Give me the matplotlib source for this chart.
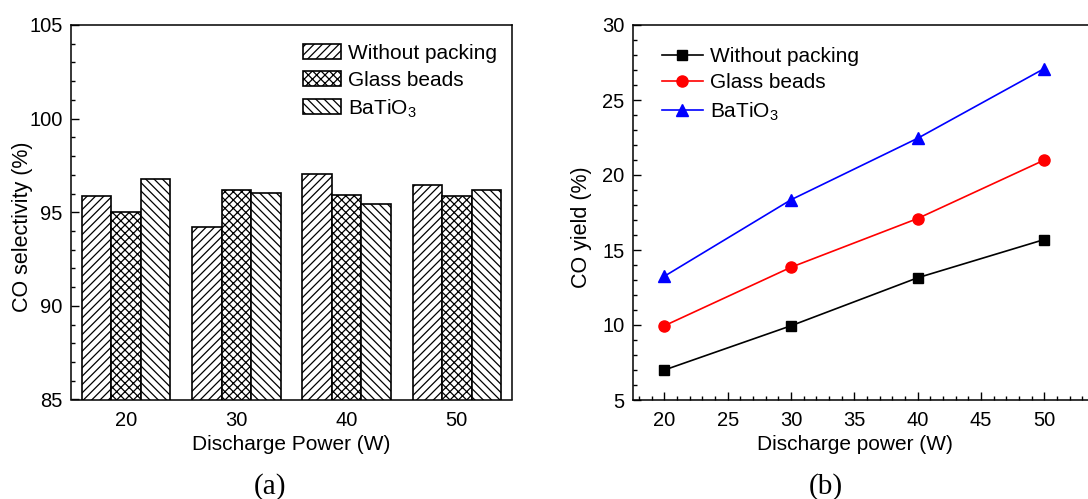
import numpy as np
import matplotlib
matplotlib.use("Agg")
import matplotlib.pyplot as plt
from matplotlib.ticker import MultipleLocator

plt.rcParams['font.family'] = ['Liberation Sans', 'DejaVu Sans']
plt.rcParams['mathtext.fontset'] = 'custom'
plt.rcParams['mathtext.rm'] = 'Liberation Sans'
plt.rcParams['hatch.linewidth'] = 0.9

# ---- data ----
powers = [20, 30, 40, 50]
series_names = ['Without packing', 'Glass beads', 'BaTiO$_3$']

selectivity_without = [95.85, 94.23, 97.05, 96.48]
selectivity_glass = [95.03, 96.20, 95.90, 95.85]
selectivity_batio3 = [96.76, 96.05, 95.43, 96.17]

yield_without = [7.0, 9.95, 13.15, 15.7]
yield_glass = [9.95, 13.85, 17.1, 21.0]
yield_batio3 = [13.25, 18.35, 22.45, 27.1]

W, H = 1088, 499
fig = plt.figure(figsize=(W / 100, H / 100), dpi=100)

FS = 15
TICK_FS = 14.5

# ---- (a) bar chart of CO selectivity ----
ax1 = fig.add_axes([71 / W, 1 - 399.5 / H, (512 - 71) / W, (399.5 - 25) / H])
x = np.arange(len(powers))
bw = 0.267
hatches = ['////', 'xxxx', '\\\\\\\\']
for i, (vals, hatch, name) in enumerate(zip(
        [selectivity_without, selectivity_glass, selectivity_batio3],
        hatches, series_names)):
    ax1.bar(x + (i - 1) * bw, vals, width=bw, bottom=0, color='white',
            edgecolor='black', hatch=hatch, linewidth=1.2, label=name)

ax1.set_xlim(-0.5, 3.5)
ax1.set_ylim(85, 105)
ax1.set_xticks(x)
ax1.set_xticklabels([str(p) for p in powers], fontsize=TICK_FS)
ax1.tick_params(axis='x', length=0, pad=8)
ax1.yaxis.set_major_locator(MultipleLocator(5))
ax1.yaxis.set_minor_locator(MultipleLocator(1))
ax1.tick_params(axis='y', which='major', direction='in', length=5.5,
                width=1.0, labelsize=TICK_FS, pad=6)
ax1.tick_params(axis='y', which='minor', direction='in', length=3, width=1.0)
for s in ax1.spines.values():
    s.set_linewidth(1.1)
ax1.set_xlabel('Discharge Power (W)', fontsize=FS)
ax1.set_ylabel('CO selectivity (%)', fontsize=15.5)
ax1.xaxis.set_label_coords(0.5, -(445 - 399.5) / 374.5, transform=ax1.transAxes)
ax1.yaxis.set_label_coords(-(71 - 23) / 441, (399.5 - 227) / 374.5,
                           transform=ax1.transAxes)
ax1.xaxis.label.set_va('center')
ax1.yaxis.label.set_va('center')
ax1.legend(loc='upper left', bbox_to_anchor=(303 / W, 1 - 44 / H),
           bbox_transform=fig.transFigure, frameon=False, fontsize=FS,
           handlelength=1.8, handleheight=0.75, handletextpad=0.35,
           labelspacing=0.36, borderpad=0, borderaxespad=0)

# ---- (b) line chart of CO yield ----
ax2 = fig.add_axes([632.7 / W, 1 - 400 / H, (1090 - 632.7) / W, (400 - 25) / H])
ax2.plot(powers, yield_without, color='black', marker='s', markersize=7,
         linewidth=1.2, label=series_names[0])
ax2.plot(powers, yield_glass, color='#ff0000', marker='o', markersize=8,
         linewidth=1.2, label=series_names[1])
ax2.plot(powers, yield_batio3, color='#0000ff', marker='^', markersize=8.5,
         linewidth=1.2, label=series_names[2])
ax2.set_xlim(17.5, 53.6)
ax2.set_ylim(5, 30)
ax2.xaxis.set_major_locator(MultipleLocator(5))
ax2.xaxis.set_minor_locator(MultipleLocator(1))
ax2.yaxis.set_major_locator(MultipleLocator(5))
ax2.yaxis.set_minor_locator(MultipleLocator(1))
ax2.tick_params(which='major', direction='in', length=5.5, width=1.0,
                labelsize=TICK_FS)
ax2.tick_params(which='minor', direction='in', length=2.8, width=1.0)
ax2.tick_params(axis='x', pad=8)
ax2.tick_params(axis='y', pad=6)
for s in ax2.spines.values():
    s.set_linewidth(1.1)
ax2.set_xlabel('Discharge power (W)', fontsize=FS)
ax2.set_ylabel('CO yield (%)', fontsize=15.5)
ax2.xaxis.set_label_coords((855 - 632.7) / (1090 - 632.7), -(445 - 400) / 375,
                           transform=ax2.transAxes)
ax2.yaxis.set_label_coords(-(632.7 - 581) / (1090 - 632.7), (400 - 227) / 375,
                           transform=ax2.transAxes)
ax2.xaxis.label.set_va('center')
ax2.yaxis.label.set_va('center')
ax2.legend(loc='upper left', bbox_to_anchor=(662 / W, 1 - 47 / H),
           bbox_transform=fig.transFigure, frameon=False, fontsize=FS,
           numpoints=1, handlelength=1.95, handletextpad=0.35,
           labelspacing=0.36, borderpad=0, borderaxespad=0)

# ---- panel captions ----
fig.text(270 / W, 1 - 487 / H, '(a)', ha='center', va='center',
         fontsize=21, family='Liberation Serif')
fig.text(826 / W, 1 - 487 / H, '(b)', ha='center', va='center',
         fontsize=21, family='Liberation Serif')

fig.savefig('out.png', dpi=100)
